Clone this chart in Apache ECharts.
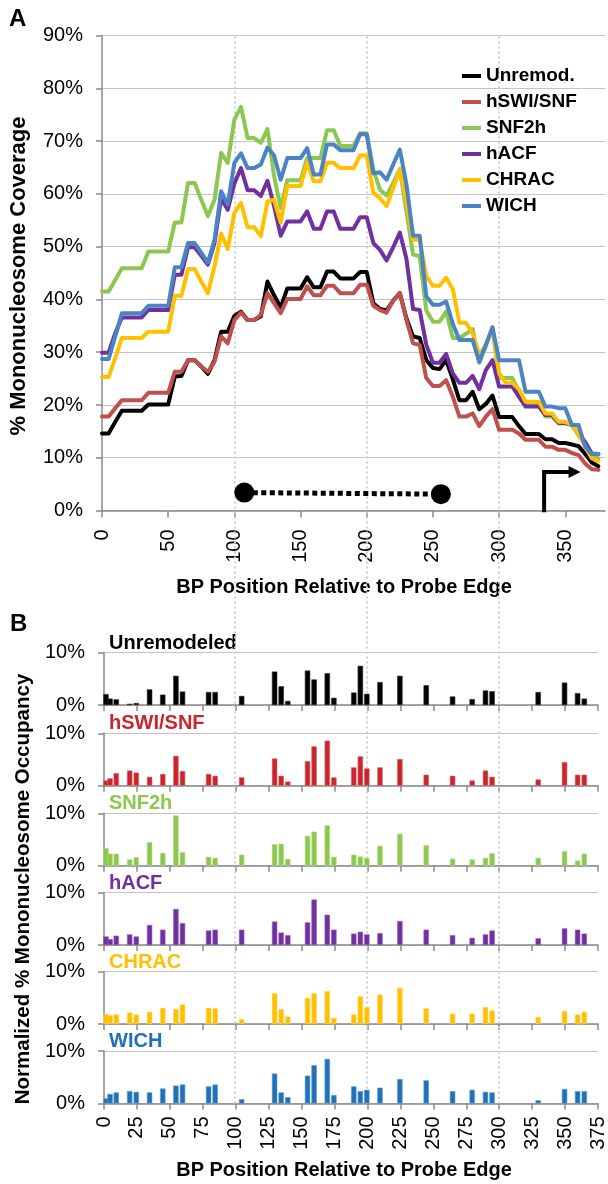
<!DOCTYPE html>
<html><head><meta charset="utf-8">
<script src="https://cdn.jsdelivr.net/npm/echarts@6/dist/echarts.min.js"></script>
<style>html,body{margin:0;padding:0;background:#fff}#c{width:608px;height:1184px}</style>
</head><body><div id="c"></div>
<script>
const FONT = "'Liberation Sans', Arial, Helvetica, sans-serif";

// ---------- DATA ----------
const seriesNames = ['Unremod.', 'hSWI/SNF', 'SNF2h', 'hACF', 'CHRAC', 'WICH'];
const panelNames = ['Unremodeled', 'hSWI/SNF', 'SNF2h', 'hACF', 'CHRAC', 'WICH'];

// Panel A: % mononucleosome coverage vs bp position
const bpA = [0,5,10,15,20,25,30,35,40,45,50,55,60,65,70,75,80,85,90,95,100,105,110,115,120,125,130,135,140,145,150,155,160,165,170,175,180,185,190,195,200,205,210,215,220,225,230,235,240,245,250,255,260,265,270,275,280,285,290,295,300,305,310,315,320,325,330,335,340,345,350,355,360,365,370,375];
const covUnremod = [14.6,14.6,16.8,18.9,18.9,18.9,18.9,20.1,20.1,20.1,20.1,25.4,25.5,28.5,28.5,27.3,25.9,28.5,33.9,33.9,36.9,37.7,36.1,36.1,36.8,43.4,40.8,38.5,42.1,42.1,42.1,44.2,42.3,42.3,45.3,45.3,44.0,44.0,44.0,45.2,45.2,39.3,38.2,37.9,39.8,41.2,36.4,33.0,32.7,28.5,27.0,26.8,28.5,24.9,20.9,20.9,22.5,19.2,20.2,21.8,17.7,17.7,17.7,16.0,14.5,14.5,14.5,13.5,13.5,12.8,12.8,12.5,12.2,10.7,9.1,8.4];
const covSWI = [17.8,17.8,19.4,20.9,20.9,20.9,20.9,22.3,22.3,22.3,22.3,26.3,26.3,28.5,28.5,27.3,26.3,28.2,33.0,31.7,36.1,37.5,36.1,36.1,37.1,41.2,39.3,37.4,40.1,40.1,40.1,42.5,40.8,40.8,42.6,42.6,41.2,41.2,41.2,42.8,42.8,38.8,38.0,37.5,39.8,41.2,36.1,31.7,31.4,25.1,23.6,23.6,24.7,21.6,17.8,17.8,18.4,16.0,17.8,19.2,15.3,15.3,15.3,14.6,13.4,13.4,13.4,12.1,12.1,11.5,11.5,10.9,10.5,8.9,7.8,7.7];
const covSNF2h = [41.5,41.5,43.7,45.9,45.9,45.9,45.9,49.1,49.1,49.1,49.1,54.6,54.6,62.1,62.1,58.9,55.8,58.9,67.8,65.9,74.1,76.5,70.6,70.6,69.7,72.3,63.4,57.3,62.6,62.6,62.6,66.8,66.8,66.8,72.1,72.1,69.1,69.1,69.1,71.5,71.5,64.6,60.8,59.7,62.1,64.7,56.7,48.5,48.2,37.9,35.8,35.8,37.7,32.7,32.7,33.5,34.4,28.0,31.2,34.6,25.1,25.1,25.1,22.7,20.0,20.0,20.0,17.8,17.8,16.5,16.5,16.2,14.3,12.4,10.2,9.9];
const covACF = [29.9,29.9,33.6,36.6,36.6,36.6,36.6,38.0,38.0,38.0,38.0,44.7,44.7,49.9,49.9,48.3,46.6,50.7,59.2,57.0,62.0,64.9,60.7,60.7,59.6,62.5,57.7,52.1,54.8,54.8,54.8,56.7,53.4,53.4,56.7,56.7,53.4,53.4,53.4,55.6,55.6,50.7,49.4,47.4,49.9,52.7,47.7,38.2,38.0,31.4,28.0,28.0,29.7,26.0,24.2,24.2,25.5,23.0,26.6,28.5,23.5,23.5,23.5,21.6,19.7,19.7,19.7,18.1,18.1,16.6,16.6,16.2,14.6,13.0,10.8,10.7];
const covCHRAC = [25.3,25.3,28.9,32.7,32.7,32.7,32.7,33.9,33.9,33.9,33.9,40.7,40.7,45.8,45.8,43.4,41.2,46.3,52.5,49.6,56.4,58.3,53.7,53.7,52.0,58.6,58.9,54.6,61.5,61.5,61.5,65.9,62.4,62.4,65.9,65.9,64.9,64.9,64.9,67.3,67.3,60.2,59.2,57.7,61.1,64.6,58.3,51.3,51.3,44.4,42.6,42.6,44.1,42.0,35.6,35.6,33.6,29.5,31.4,34.7,26.0,24.2,24.2,23.0,20.6,20.6,20.6,18.4,18.4,16.8,16.8,16.2,14.5,12.2,9.9,9.4];
const covWICH = [28.7,28.7,33.0,37.4,37.4,37.4,37.4,38.8,38.8,38.8,38.8,46.1,46.1,50.7,50.7,48.9,47.0,51.3,60.5,58.0,65.9,67.7,64.9,64.9,65.6,68.8,67.3,62.7,66.8,66.8,66.8,68.7,63.7,63.7,69.4,69.4,68.3,68.3,68.3,71.3,71.3,63.9,64.1,62.7,65.6,68.4,61.8,52.1,52.1,40.6,39.0,39.0,39.6,35.4,32.3,32.3,32.3,28.2,31.4,34.7,28.5,28.5,28.5,28.5,22.5,22.5,22.5,19.7,19.7,19.4,19.4,16.2,16.2,12.1,10.7,10.7];
const tickA = [0, 50, 100, 150, 200, 250, 300, 350];

// Panel A annotations (bp, %)
const dumbbell = [[107.5, 3.4], [256, 3.1]];
const arrowShaft = [[334, 0], [334, 7.3]];
const arrowHead = [[334, 7.3], [357, 7.3]];
const guideBp = [100, 200, 300];

// Panel B: normalized % mononucleosome occupancy
const bpB = [1.5,4.6,9.3,19.5,24.5,34.6,44.6,54.6,59.6,79.4,84.4,104.5,129.5,134.5,139.5,154.5,159.5,169.5,174.5,189.6,194.6,199.5,209.5,224.6,244.6,264.6,279.5,289.6,294.6,329.6,349.6,359.5,364.6];
const occUnremod = [2.1,1.25,1.1,0.25,0.4,3.0,2.0,5.6,2.6,2.5,2.5,1.75,6.4,3.6,0.8,6.6,4.9,6.1,1.4,2.4,7.5,2.15,4.4,5.6,3.8,1.65,1.15,2.8,2.65,2.5,4.3,2.3,1.25];
const occSWI = [1.0,1.4,2.4,2.9,2.5,1.7,2.25,5.7,2.8,2.25,1.9,1.6,5.2,1.9,0.8,4.7,7.5,8.6,1.6,3.5,5.6,3.3,3.5,5.1,2.1,1.9,1.0,2.9,1.7,1.2,4.5,2.1,2.1];
const occSNF2h = [3.4,2.3,2.3,1.2,1.6,4.5,2.45,9.6,2.6,1.7,1.5,2.1,4.1,4.2,1.3,5.7,6.5,7.7,1.7,2.1,1.75,1.5,3.8,6.1,3.9,1.35,1.2,1.5,2.4,1.5,2.8,1.0,2.3];
const occACF = [1.65,1.15,1.8,2.05,1.65,3.85,2.95,6.9,4.2,2.8,2.95,2.95,4.5,2.4,1.9,4.35,8.7,5.8,2.95,2.2,2.55,2.05,2.3,4.6,2.95,1.9,1.4,2.05,2.8,1.3,3.2,2.95,2.2];
const occCHRAC = [1.9,1.7,1.85,2.2,1.85,2.35,3.1,2.85,3.75,3.1,3.0,0.95,5.9,2.85,1.45,5.0,5.9,6.3,1.2,1.85,5.3,3.25,5.65,6.9,3.0,2.0,2.0,3.25,2.6,1.35,2.5,1.85,2.35];
const occWICH = [0.95,1.8,2.1,2.35,2.2,2.1,2.85,3.4,3.6,3.25,3.6,0.8,5.7,2.1,1.2,5.3,7.3,8.5,1.6,3.25,2.35,2.6,3.0,4.65,4.4,2.35,2.6,2.2,2.1,0.6,2.75,2.35,2.35];

// ---------- STYLE / LAYOUT ----------
const lineColors = ['#000000', '#C0504D', '#8CC751', '#7030A0', '#FFC000', '#4A84C4'];
const barColors = ['#000000', '#C9252C', '#8CC84B', '#7030A0', '#FFC000', '#1F72BA'];
const barEdges = ['#333333', '#D9666B', '#B5DC8E', '#9467B8', '#FFD35C', '#5E9BD0'];
const axisGray = '#8A8A8A';
const gridGray = '#C4C4C4';
const panelTops = [652.7, 733.3, 813.3, 892.7, 971.7, 1051];
const panelH = 52.4;

const covSets = [covUnremod, covSWI, covSNF2h, covACF, covCHRAC, covWICH];
const occSets = [occUnremod, occSWI, occSNF2h, occACF, occCHRAC, occWICH];
const pair = (xs, ys) => xs.map((x, i) => [x, ys[i]]);

const grids = [{ left: 102, right: 3, top: 35.7, height: 474.8 }];
panelTops.forEach(t => grids.push({ left: 104, right: 10, top: t, height: panelH }));
grids.push({ left: 102, right: 3, top: 35.7, bottom: 80.6 }); // guide overlay

const tickLabel = { color: '#000', fontSize: 20, fontFamily: FONT };

const xAxes = [{
  gridIndex: 0, type: 'value', min: 0, max: 380,
  axisLine: { show: true, lineStyle: { color: axisGray, width: 1.5 } },
  axisTick: { show: true, inside: false, length: 7, customValues: tickA, lineStyle: { color: axisGray, width: 1.5 } },
  axisLabel: Object.assign({ rotate: 90, margin: 19, customValues: tickA }, tickLabel),
  splitLine: { show: false }
}];
const yAxes = [{
  gridIndex: 0, type: 'value', min: 0, max: 90, interval: 10,
  axisLine: { show: true, lineStyle: { color: axisGray, width: 1.5 } },
  axisTick: { show: true, length: 6, lineStyle: { color: axisGray, width: 1.5 } },
  axisLabel: Object.assign({ formatter: '{value}%', margin: 19 }, tickLabel),
  splitLine: { show: true, lineStyle: { color: gridGray, width: 1.2 } }
}];
panelTops.forEach((t, i) => {
  const last = i === panelTops.length - 1;
  xAxes.push({
    gridIndex: i + 1, type: 'value', min: 0, max: 375, interval: 25,
    axisLine: { show: true, onZero: false, lineStyle: { color: axisGray, width: 1.5 } },
    axisTick: { show: true, length: 6, lineStyle: { color: axisGray, width: 1.5 } },
    axisLabel: Object.assign({ show: last, rotate: 90, margin: 13 }, tickLabel),
    splitLine: { show: false }
  });
  yAxes.push({
    gridIndex: i + 1, type: 'value', min: 0, max: 10, interval: 10,
    axisLine: { show: true, lineStyle: { color: axisGray, width: 1.5 } },
    axisTick: { show: true, length: 6, lineStyle: { color: axisGray, width: 1.5 } },
    axisLabel: Object.assign({ formatter: '{value}%', margin: 19 }, tickLabel),
    splitLine: { show: true, lineStyle: { color: gridGray, width: 1.2 } }
  });
});
xAxes.push({ gridIndex: 7, type: 'value', min: 0, max: 380, show: false });
yAxes.push({ gridIndex: 7, type: 'value', min: 0, max: 1, show: false });

const series = [];
// guide dotted verticals (behind everything)
series.push({
  type: 'line', xAxisIndex: 7, yAxisIndex: 7, data: [[0, -5]], showSymbol: false, silent: true, z: 1,
  lineStyle: { width: 0 },
  markLine: {
    z: 1, silent: true, symbol: ['none', 'none'], label: { show: false },
    lineStyle: { color: '#CFCFCF', width: 2, type: [2, 3] },
    data: guideBp.map(v => ({ xAxis: v }))
  }
});
// panel A lines
seriesNames.forEach((n, i) => {
  series.push({
    name: n, type: 'line', xAxisIndex: 0, yAxisIndex: 0, data: pair(bpA, covSets[i]),
    showSymbol: false, symbol: 'none', color: lineColors[i], z: 3,
    lineStyle: { width: 4, color: lineColors[i], join: 'round', cap: 'round' }
  });
});
// dumbbell annotation
series.push({
  type: 'line', xAxisIndex: 0, yAxisIndex: 0, data: dumbbell, symbol: 'circle', symbolSize: 20, showSymbol: true, z: 4,
  itemStyle: { color: '#000' }, lineStyle: { color: '#000', width: 5, type: [5, 3.5], cap: 'butt' }
});
// bent arrow
series.push({
  type: 'line', xAxisIndex: 0, yAxisIndex: 0, data: arrowShaft, showSymbol: false, symbol: 'none', z: 4,
  lineStyle: { color: '#000', width: 4, cap: 'square' }
});
series.push({
  type: 'lines', coordinateSystem: 'cartesian2d', xAxisIndex: 0, yAxisIndex: 0, z: 4,
  symbol: ['none', 'triangle'], symbolSize: 12,
  lineStyle: { color: '#000', width: 4, opacity: 1, curveness: 0 },
  data: [{ coords: arrowHead }]
});
// panel B bars
panelNames.forEach((n, i) => {
  series.push({
    name: 'occ-' + n, type: 'bar', xAxisIndex: i + 1, yAxisIndex: i + 1, data: pair(bpB, occSets[i]),
    barWidth: 5.4, z: 3, itemStyle: { color: barColors[i], borderColor: barEdges[i], borderWidth: 0.6 }
  });
});

const graphic = [
  { type: 'text', x: 9, y: 7, style: { text: 'A', font: 'bold 24px ' + FONT, fill: '#000' } },
  { type: 'text', x: 10, y: 612, style: { text: 'B', font: 'bold 24px ' + FONT, fill: '#000' } },
  { type: 'text', x: 344, y: 587, style: { text: 'BP Position Relative to Probe Edge', font: 'bold 20px ' + FONT, fill: '#000', align: 'center', verticalAlign: 'middle' } },
  { type: 'text', x: 344, y: 1170, style: { text: 'BP Position Relative to Probe Edge', font: 'bold 20px ' + FONT, fill: '#000', align: 'center', verticalAlign: 'middle' } },
  { type: 'text', x: 19, y: 276, rotation: Math.PI / 2, style: { text: '% Mononucleosome Coverage', font: 'bold 22px ' + FONT, fill: '#000', align: 'center', verticalAlign: 'middle' } },
  { type: 'text', x: 23, y: 889, rotation: Math.PI / 2, style: { text: 'Normalized % Mononucleosome Occupancy', font: 'bold 20.5px ' + FONT, fill: '#000', align: 'center', verticalAlign: 'middle' } }
];
panelNames.forEach((n, i) => {
  graphic.push({ type: 'text', x: 109, y: panelTops[i] - 9.5, style: { text: n, font: 'bold 20px ' + FONT, fill: barColors[i], align: 'left', verticalAlign: 'middle' } });
});

const chart = echarts.init(document.getElementById('c'), null, { renderer: 'canvas' });
chart.setOption({
  animation: false,
  backgroundColor: '#fff',
  grid: grids,
  xAxis: xAxes,
  yAxis: yAxes,
  legend: {
    data: seriesNames, orient: 'vertical', left: 457, top: 61,
    icon: 'rect', itemWidth: 19, itemHeight: 4, itemGap: 6,
    textStyle: { fontSize: 19, fontWeight: 'bold', fontFamily: FONT, color: '#000', lineHeight: 20 }
  },
  graphic: graphic,
  series: series
});
</script></body></html>
